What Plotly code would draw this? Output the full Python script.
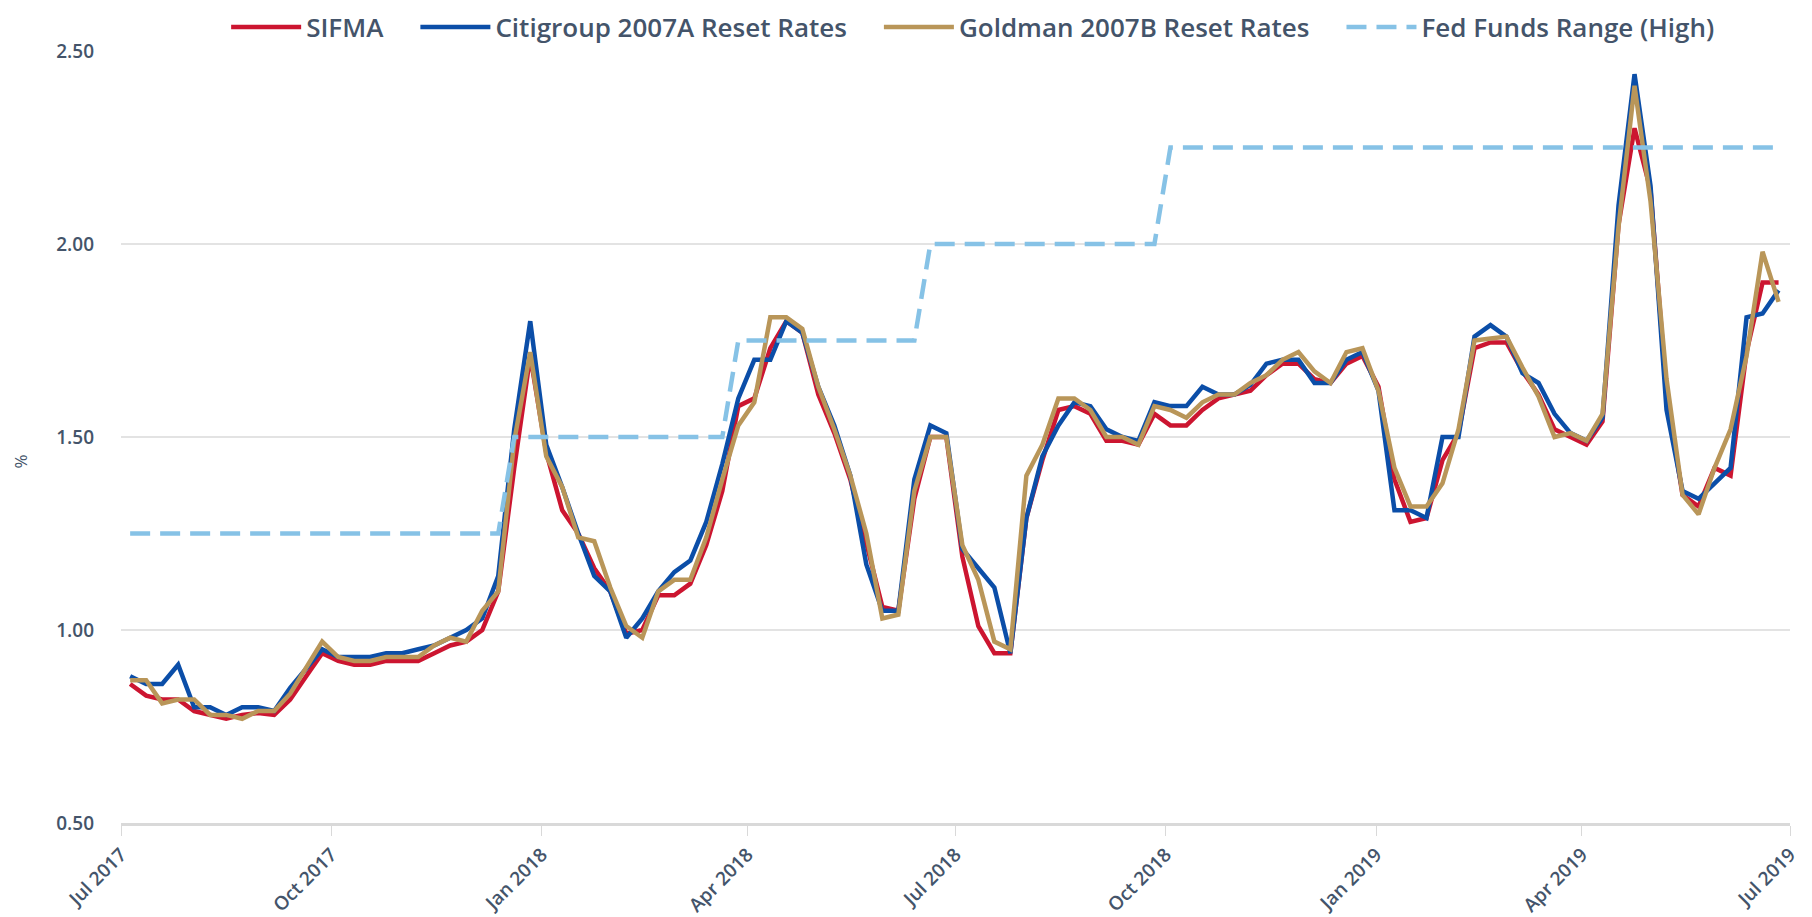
import pandas as pd
import plotly.graph_objects as go

start_date = "2017-07-05"
n_weeks = 104

sifma = [0.86, 0.83, 0.82, 0.82, 0.79, 0.78, 0.77, 0.78, 0.785, 0.78,
         0.82, 0.88, 0.94, 0.92, 0.91, 0.91, 0.92, 0.92, 0.92, 0.94,
         0.96, 0.97, 1.00, 1.10, 1.42, 1.71, 1.46, 1.31, 1.25, 1.16,
         1.10, 0.99, 1.00, 1.09, 1.09, 1.12, 1.22, 1.36, 1.58, 1.60,
         1.73, 1.80, 1.77, 1.61, 1.51, 1.39, 1.22, 1.06, 1.05, 1.34,
         1.50, 1.50, 1.19, 1.01, 0.94, 0.94, 1.29, 1.44, 1.57, 1.58,
         1.56, 1.49, 1.49, 1.48, 1.56, 1.53, 1.53, 1.57, 1.60, 1.61,
         1.62, 1.66, 1.69, 1.69, 1.65, 1.64, 1.69, 1.71, 1.63, 1.39,
         1.28, 1.29, 1.44, 1.51, 1.73, 1.745, 1.745, 1.67, 1.61, 1.52,
         1.50, 1.48, 1.54, 2.05, 2.30, 2.14, 1.61, 1.35, 1.32, 1.42,
         1.40, 1.72, 1.90, 1.90]

citi = [0.88, 0.86, 0.86, 0.91, 0.80, 0.80, 0.78, 0.80, 0.80, 0.79,
        0.85, 0.90, 0.95, 0.93, 0.93, 0.93, 0.94, 0.94, 0.95, 0.96,
        0.98, 1.00, 1.03, 1.14, 1.52, 1.80, 1.48, 1.37, 1.25, 1.14,
        1.10, 0.98, 1.03, 1.10, 1.15, 1.18, 1.28, 1.43, 1.60, 1.70,
        1.70, 1.80, 1.77, 1.63, 1.53, 1.40, 1.17, 1.05, 1.05, 1.39,
        1.53, 1.51, 1.21, 1.16, 1.11, 0.94, 1.29, 1.45, 1.53, 1.59,
        1.58, 1.52, 1.50, 1.49, 1.59, 1.58, 1.58, 1.63, 1.61, 1.61,
        1.635, 1.69, 1.70, 1.70, 1.64, 1.64, 1.70, 1.72, 1.62, 1.31,
        1.31, 1.29, 1.50, 1.50, 1.76, 1.79, 1.76, 1.665, 1.64, 1.56,
        1.51, 1.49, 1.55, 2.10, 2.44, 2.15, 1.57, 1.36, 1.34, 1.38,
        1.42, 1.81, 1.82, 1.88]

goldman = [0.87, 0.87, 0.81, 0.82, 0.82, 0.78, 0.78, 0.77, 0.79, 0.79,
           0.835, 0.90, 0.97, 0.93, 0.92, 0.92, 0.93, 0.93, 0.93, 0.96,
           0.98, 0.97, 1.05, 1.10, 1.49, 1.72, 1.45, 1.37, 1.24, 1.23,
           1.11, 1.01, 0.98, 1.10, 1.13, 1.13, 1.24, 1.39, 1.53, 1.59,
           1.81, 1.81, 1.78, 1.63, 1.52, 1.40, 1.25, 1.03, 1.04, 1.36,
           1.50, 1.50, 1.22, 1.13, 0.97, 0.95, 1.40, 1.48, 1.60, 1.60,
           1.57, 1.50, 1.50, 1.48, 1.58, 1.57, 1.55, 1.59, 1.61, 1.61,
           1.64, 1.66, 1.70, 1.72, 1.67, 1.64, 1.72, 1.73, 1.62, 1.42,
           1.32, 1.32, 1.38, 1.52, 1.75, 1.755, 1.76, 1.68, 1.605, 1.50,
           1.51, 1.49, 1.56, 2.045, 2.41, 2.11, 1.65, 1.35, 1.30, 1.42,
           1.52, 1.71, 1.98, 1.85]

fed_high = [1.25] * 24 + [1.50] * 14 + [1.75] * 12 + [2.00] * 15 + [2.25] * 39

y_ticks = [0.50, 1.00, 1.50, 2.00, 2.50]

series_names = ["SIFMA", "Citigroup 2007A Reset Rates",
                "Goldman 2007B Reset Rates", "Fed Funds Range (High)"]
series_colors = ["#cc1530", "#0b4ea8", "#b99659", "#86c2e6"]

dates = pd.date_range(start_date, periods=n_weeks, freq="7D")

TXT = "#44546a"
FONT = "Open Sans"
PAD = "\u00a0" * 4

fig = go.Figure()
data_series = [sifma, citi, goldman, fed_high]
for k, (name, color, vals) in enumerate(zip(series_names, series_colors, data_series)):
    dash = "20px,10px" if name.startswith("Fed") else "solid"
    label = name + (PAD if k < len(series_names) - 1 else "")
    fig.add_trace(go.Scatter(x=dates, y=vals, name=label, mode="lines",
                             line=dict(color=color, width=4.5, dash=dash)))

fig.add_annotation(text="%", xref="paper", yref="paper", x=-0.06, y=0.468,
                   xanchor="center", yanchor="middle", textangle=-90, showarrow=False,
                   font=dict(size=17, color=TXT, family=FONT))

fig.update_layout(
    width=1804, height=909,
    margin=dict(l=113, r=22, t=43, b=94, autoexpand=False),
    paper_bgcolor="white", plot_bgcolor="white",
    font=dict(family=FONT, color=TXT),
    showlegend=True,
    legend=dict(orientation="h", xref="container", yref="paper",
                x=0.535, xanchor="center", y=1.031, yanchor="middle",
                font=dict(size=26, color=TXT, family=FONT, weight=600),
                itemwidth=70, tracegroupgap=0, bgcolor="rgba(0,0,0,0)"),
    xaxis=dict(type="date", range=["2017-07-01", "2019-07-01"],
               tick0="2017-07-01", dtick="M3", tickformat="%b %Y",
               tickangle=-45, ticks="outside", ticklen=10, tickcolor="#d9d9d9",
               tickwidth=1,
               tickfont=dict(size=19, color=TXT, family=FONT, weight=600),
               showgrid=False, showline=True, linecolor="#d9d9d9", linewidth=3,
               zeroline=False),
    yaxis=dict(range=[0.5, 2.5], tickvals=y_ticks, tickformat=".2f",
               tickfont=dict(size=19, color=TXT, family=FONT, weight=600),
               ticklabelstandoff=26,
               showgrid=True, gridcolor="#e3e3e3", gridwidth=2,
               showline=False, zeroline=False),
)

fig.write_html("out.html")
